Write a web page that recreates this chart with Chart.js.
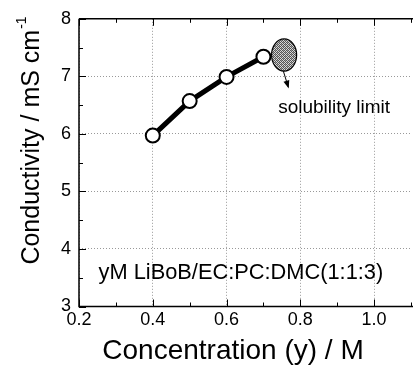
<!DOCTYPE html>
<html><head><meta charset="utf-8">
<script src="https://cdn.jsdelivr.net/npm/chart.js@4.4.1/dist/chart.umd.min.js"></script>
<style>html,body{margin:0;padding:0;overflow:hidden;background:#fff;width:414px;height:368px}
#wrap{position:absolute;left:0;top:0;width:420px;height:368px}</style>
</head><body><div id="wrap"><canvas id="c" width="420" height="368"></canvas></div>
<script>
const concentration = [0.4, 0.5, 0.6, 0.7];
const conductivity = [5.97, 6.57, 6.99, 7.34];
const xTickValues = [0.2, 0.4, 0.6, 0.8, 1.0];
const yTickValues = [3, 4, 5, 6, 7, 8];
const xTitle = 'Concentration (y) / M';
const yTitle = 'Conductivity / mS cm';
const yTitleSup = '-1';
const systemLabel = 'yM LiBoB/EC:PC:DMC(1:1:3)';
const limitLabel = 'solubility limit';
const limitRegion = {x: 0.756, y: 7.37, rx: 0.034, ry: 0.28};
const limitArrow = {x0: 0.754, y0: 7.09, x1: 0.767, y1: 6.82};
const labelPos = {system: [0.253, 3.59], limit: [0.74, 6.46]};

const FONT = '"Liberation Sans", Arial, sans-serif';

function hatch(){
  const p = document.createElement('canvas'); p.width = 4; p.height = 4;
  const g = p.getContext('2d');
  g.fillStyle = '#d8d8d8'; g.fillRect(0,0,4,4);
  g.fillStyle = '#555';
  g.fillRect(0,0,1,1); g.fillRect(2,0,1,1); g.fillRect(1,1,1,1); g.fillRect(3,1,1,1);
  g.fillRect(0,2,1,1); g.fillRect(2,2,1,1); g.fillRect(1,3,1,1); g.fillRect(3,3,1,1);
  g.fillStyle = '#999'; g.fillRect(1,0,1,1); g.fillRect(3,2,1,1);
  return p;
}

const deco = {
  id: 'deco',
  afterDraw(chart){
    const ctx = chart.ctx, xs = chart.scales.x, ys = chart.scales.y, a = chart.chartArea;
    ctx.save();
    ctx.strokeStyle = '#000'; ctx.lineWidth = 1.5;
    ctx.beginPath(); ctx.moveTo(a.left, a.top); ctx.lineTo(a.right+2, a.top); ctx.stroke();
    ctx.beginPath(); ctx.moveTo(a.left, a.top); ctx.lineTo(a.left, a.bottom); ctx.lineTo(a.right+2, a.bottom); ctx.stroke();
    ctx.lineWidth = 1;
    for (let v = 0.2; v <= 1.1001; v += 0.1) {
      const px = Math.round(xs.getPixelForValue(v)) + 0.5;
      const major = Math.abs(Math.round(v*10) % 2) === 0;
      const L = major ? 7 : 4;
      ctx.beginPath(); ctx.moveTo(px, a.bottom); ctx.lineTo(px, a.bottom - L);
      ctx.moveTo(px, a.top); ctx.lineTo(px, a.top + L); ctx.stroke();
    }
    for (let v = 3; v <= 8.001; v += 0.5) {
      const py = Math.round(ys.getPixelForValue(v)) + 0.5;
      const major = Math.abs(v - Math.round(v)) < 1e-6;
      const L = major ? 7 : 4;
      ctx.beginPath(); ctx.moveTo(a.left, py); ctx.lineTo(a.left + L, py); ctx.stroke();
    }
    const cx = xs.getPixelForValue(limitRegion.x), cy = ys.getPixelForValue(limitRegion.y);
    const rx = Math.abs(xs.getPixelForValue(limitRegion.x + limitRegion.rx) - cx);
    const ry = Math.abs(ys.getPixelForValue(limitRegion.y + limitRegion.ry) - cy);
    ctx.beginPath(); ctx.ellipse(cx, cy, rx, ry, 0, 0, Math.PI*2);
    ctx.fillStyle = ctx.createPattern(hatch(), 'repeat'); ctx.fill();
    ctx.lineWidth = 1.2; ctx.strokeStyle = '#000'; ctx.stroke();
    const ax0 = xs.getPixelForValue(limitArrow.x0), ay0 = ys.getPixelForValue(limitArrow.y0);
    const ax1 = xs.getPixelForValue(limitArrow.x1), ay1 = ys.getPixelForValue(limitArrow.y1);
    ctx.lineWidth = 1; ctx.beginPath(); ctx.moveTo(ax0, ay0); ctx.lineTo(ax1, ay1); ctx.stroke();
    const ang = Math.atan2(ay1-ay0, ax1-ax0);
    ctx.beginPath(); ctx.moveTo(ax1 + 2*Math.cos(ang), ay1 + 2*Math.sin(ang));
    ctx.lineTo(ax1 - 6*Math.cos(ang) + 3*Math.sin(ang), ay1 - 6*Math.sin(ang) - 3*Math.cos(ang));
    ctx.lineTo(ax1 - 6*Math.cos(ang) - 3*Math.sin(ang), ay1 - 6*Math.sin(ang) + 3*Math.cos(ang));
    ctx.closePath(); ctx.fillStyle = '#000'; ctx.fill();
    ctx.fillStyle = '#000'; ctx.textBaseline = 'middle'; ctx.textAlign = 'left';
    ctx.font = '19px ' + FONT;
    ctx.fillText(limitLabel, xs.getPixelForValue(labelPos.limit[0]), ys.getPixelForValue(labelPos.limit[1]));
    ctx.font = '21.8px ' + FONT;
    ctx.fillText(systemLabel, xs.getPixelForValue(labelPos.system[0]), ys.getPixelForValue(labelPos.system[1]));
    ctx.textAlign = 'center';
    ctx.font = '28px ' + FONT;
    ctx.fillText(xTitle, 233, 351);
    ctx.save();
    ctx.translate(32, 141); ctx.rotate(-Math.PI/2);
    ctx.font = '25px ' + FONT;
    const w1 = ctx.measureText(yTitle).width;
    ctx.font = '14px ' + FONT;
    const w2 = ctx.measureText(yTitleSup).width;
    const start = -(w1 + w2)/2;
    ctx.textAlign = 'left';
    ctx.font = '25px ' + FONT;
    ctx.fillText(yTitle, start, 0);
    ctx.font = '14px ' + FONT;
    ctx.fillText(yTitleSup, start + w1 + 1, -10);
    ctx.restore();
    ctx.restore();
  }
};

new Chart(document.getElementById('c'), {
  type: 'line',
  data: {
    datasets: [{
      data: concentration.map((x, i) => ({x, y: conductivity[i]})),
      borderColor: '#000', borderWidth: 5,
      pointRadius: 7, pointBorderWidth: 2, pointBackgroundColor: '#fff', pointBorderColor: '#000',
      tension: 0
    }]
  },
  options: {
    responsive: false, animation: false,
    layout: {padding: {left: 0, right: 1, top: 13, bottom: 0}},
    plugins: {legend: {display: false}, tooltip: {enabled: false}},
    scales: {
      x: {
        type: 'linear', min: 0.2, max: 1.1,
        afterBuildTicks: s => { s.ticks = xTickValues.map(v => ({value: v})); },
        afterFit: s => { s.height = 61.5; },
        ticks: {color: '#000', font: {size: 18, family: FONT}, padding: 3,
          maxRotation: 0, autoSkip: false, callback: v => v.toFixed(1)},
        grid: {color: '#999', lineWidth: 1, drawTicks: false, tickLength: 0},
        border: {display: false, dash: [1, 2]}
      },
      y: {
        type: 'linear', min: 3, max: 8,
        afterBuildTicks: s => { s.ticks = yTickValues.map(v => ({value: v})); },
        afterFit: s => { s.width = 79; },
        ticks: {color: '#000', font: {size: 18, family: FONT}, padding: 8, callback: v => String(v)},
        grid: {color: '#999', lineWidth: 1, drawTicks: false, tickLength: 0},
        border: {display: false, dash: [1, 2]}
      }
    }
  },
  plugins: [deco]
});
</script></body></html>
